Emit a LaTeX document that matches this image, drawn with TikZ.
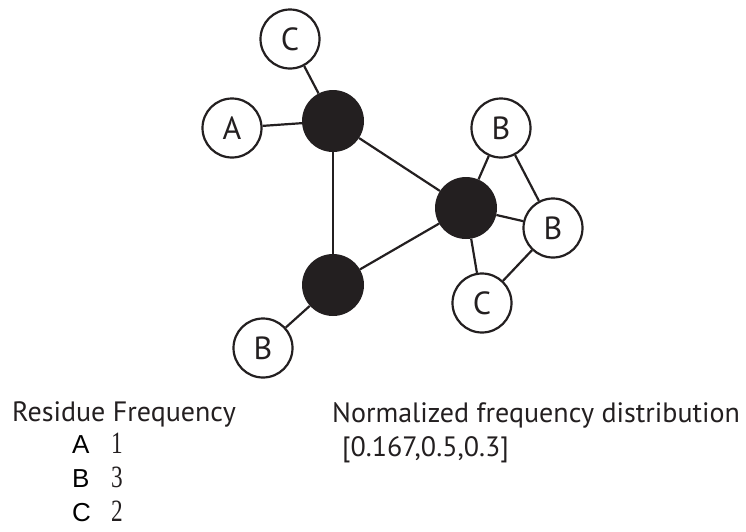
\documentclass[tikz,border=0pt]{standalone}
\usepackage{fontspec}
\setmainfont{PT Sans}
\newfontfamily\tablefont{Liberation Sans}
\newfontfamily\numfont{Liberation Serif}
\usepackage{graphicx}
\definecolor{ink}{HTML}{231F20}
\begin{document}
\begin{tikzpicture}[x=1pt,y=-1pt,
  residue/.style={circle,draw=ink,line width=2.2pt,fill=white,minimum size=59pt,inner sep=0pt,
    font=\fontsize{32}{32}\selectfont,text=ink},
  hub/.style={circle,fill=ink,minimum size=62pt,inner sep=0pt},
  link/.style={draw=ink,line width=2.2pt},
  label/.style={inner sep=0pt,text=ink,font=\fontsize{28}{28}\selectfont},
  tabletter/.style={inner sep=0pt,anchor=base west,text=black,font=\tablefont\fontsize{26}{26}\selectfont},
  tabnum/.style={inner sep=0pt,anchor=base west,text=ink,font=\numfont\fontsize{31}{31}\selectfont}]
\useasboundingbox (0,0) rectangle (746,531);

% graph
\node[hub] (k1) at (333,121) {};
\node[hub] (k2) at (466,208) {};
\node[hub] (k3) at (333,285) {};
\node[residue] (ctop) at (290,39) {C};
\node[residue] (a) at (232,128) {A};
\node[residue] (bur) at (501,128) {B};
\node[residue] (br) at (553,228) {B};
\node[residue] (cbr) at (482,303) {C};
\node[residue] (bbl) at (263,348) {B};

\path[link] (ctop) -- (k1);
\path[link] (a) -- (k1);
\path[link] (k1) -- (k3);
\path[link] (k1) -- (k2);
\path[link] (k2) -- (k3);
\path[link] (k3) -- (bbl);
\path[link] (k2) -- (bur);
\path[link] (k2) -- (br);
\path[link] (k2) -- (cbr);
\path[link] (bur) -- (br);
\path[link] (br) -- (cbr);

% frequency table
\node[label,anchor=base west] (head) at (12,421) {Residue Frequency};
\node[tabletter] (la) at (72,453) {A};
\node[tabletter] (lb) at (72,487) {B};
\node[tabletter] (lc) at (72,521) {C};
\node[tabnum] (na) at (111,453) {\scalebox{0.75}[1]{1}};
\node[tabnum] (nb) at (111,487) {\scalebox{0.75}[1]{3}};
\node[tabnum] (nc) at (111,521) {\scalebox{0.75}[1]{2}};

% distribution
\node[label,anchor=base west] (dist) at (332,422) {Normalized frequency distribution};
\node[label,anchor=base west] (vec) at (342,456) {[0.167,0.5,0.3]};
\end{tikzpicture}
\end{document}
